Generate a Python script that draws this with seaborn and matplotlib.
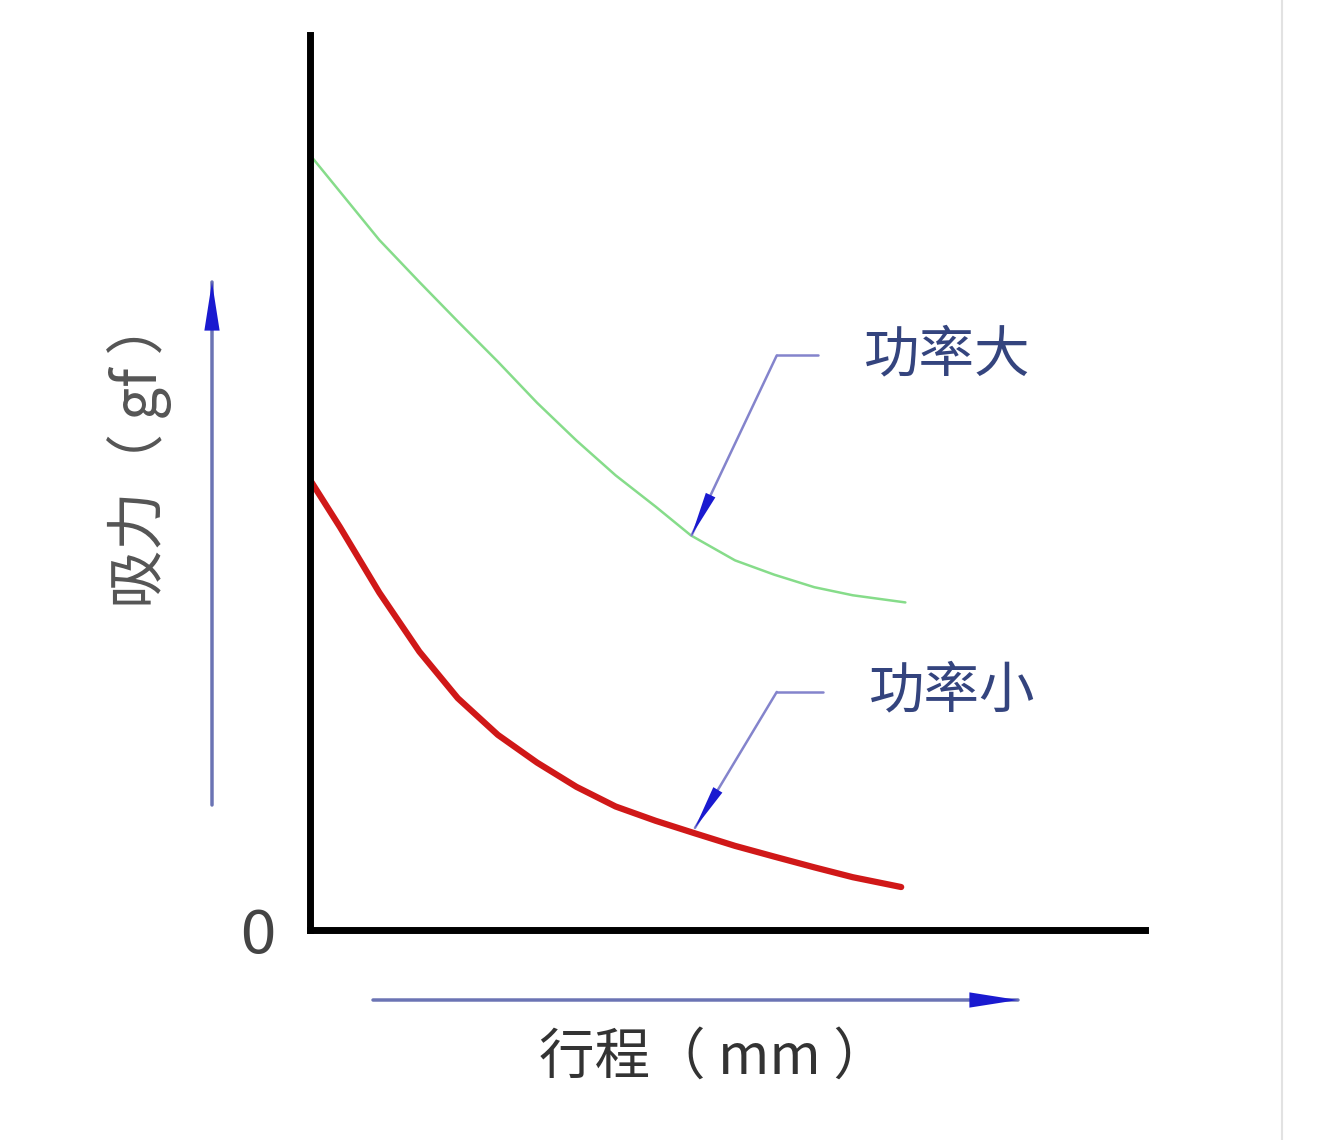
import pandas as pd
import matplotlib
matplotlib.use("Agg")
import matplotlib.pyplot as plt
import seaborn as sns
from matplotlib.lines import Line2D

# data (stroke in mm vs suction in gf, arbitrary units)
big_x = [0.00, 0.83, 1.31, 1.77, 2.25, 2.72, 3.19, 3.66, 4.14, 4.56, 5.09, 5.56, 6.04, 6.50, 7.13]
big_y = [8.66, 7.71, 7.24, 6.80, 6.35, 5.89, 5.47, 5.08, 4.73, 4.41, 4.13, 3.97, 3.83, 3.74, 3.66]
small_x = [0.00, 0.36, 0.83, 1.31, 1.77, 2.25, 2.72, 3.19, 3.66, 4.14, 4.61, 5.09, 5.56, 6.04, 6.50, 7.08]
small_y = [5.03, 4.50, 3.77, 3.11, 2.59, 2.18, 1.87, 1.60, 1.38, 1.22, 1.08, 0.94, 0.82, 0.70, 0.59, 0.48]
labels = ["功率大", "功率小"]

sns.set_style("white")
plt.rcParams['font.family'] = ['Noto Sans CJK SC', 'DejaVu Sans']

fig = plt.figure(figsize=(13.44, 11.40), dpi=100)
ax = fig.add_axes([310 / 1344, 1 - 930 / 1140, 835 / 1344, 895 / 1140])

big = pd.DataFrame({"x": big_x, "y": big_y})
small = pd.DataFrame({"x": small_x, "y": small_y})
sns.lineplot(data=big, x="x", y="y", color="#86dc8a", linewidth=1.8, ax=ax)
sns.lineplot(data=small, x="x", y="y", color="#d01818", linewidth=4.5, ax=ax)

ax.set_xlim(0, 10)
ax.set_ylim(0, 10)
sns.despine(ax=ax)
for s in ["left", "bottom"]:
    ax.spines[s].set_linewidth(5)
    ax.spines[s].set_color("black")
ax.set_xticks([])
ax.set_yticks([0])
ax.set_yticklabels(["0"], fontsize=42, color="#444444", family="DejaVu Sans")
ax.tick_params(axis="y", length=0, pad=24)
ax.set_xlabel("")
ax.set_ylabel("")

line_c = "#8484cc"
head_c = "#1a1ad0"


def arrow(x0, y0, x1, y1, coords, lw, hl, hw, shaft_c):
    # shaft and head drawn apart so they can have different colours
    ax.annotate("", xy=(x1, y1), xytext=(x0, y0), xycoords=coords, textcoords=coords,
                arrowprops=dict(arrowstyle="-", color=shaft_c, lw=lw, shrinkA=0, shrinkB=0))
    ax.annotate("", xy=(x1, y1), xytext=(x0, y0), xycoords=coords, textcoords=coords,
                arrowprops=dict(arrowstyle="-|>,head_length=%s,head_width=%s" % (hl, hw),
                                color=head_c, lw=0, shrinkA=0, shrinkB=0))


# callouts
callouts = [(labels[0], 6.08, 5.59, 6.42, 4.57, 4.41),
            (labels[1], 6.14, 5.59, 2.66, 4.61, 1.14)]
for text, x_end, x_knee, y_knee, x_tip, y_tip in callouts:
    ax.plot([x_end, x_knee], [y_knee, y_knee], color=line_c, lw=1.8)
    arrow(x_knee, y_knee, x_tip, y_tip, "data", 1.8, 3.2, 0.38, line_c)
    ax.text(x_end + 0.55, y_knee, text, fontsize=40, color="#34447e",
            va="center", ha="left")

# axis direction arrows and labels outside the axes
arrow(212, 1140 - 805, 212, 1140 - 282, "figure pixels", 2.5, 3.5, 0.55, "#6b74b4")
arrow(373, 1140 - 1000, 1018, 1140 - 1000, "figure pixels", 2.5, 3.5, 0.55, "#6b74b4")
fig.text(140 / 1344, 1 - 452 / 1140, "吸力（ gf ）", rotation=90, fontsize=42,
         color="#555555", ha="center", va="center")
fig.text(714 / 1344, 1 - 1058 / 1140, "行程（ mm ）", fontsize=40,
         color="#333333", ha="center", va="center")

# faint border line on the right of the picture
fig.add_artist(Line2D([1282 / 1344, 1282 / 1344], [0, 1], color="#e2e2e2", lw=1.5))

fig.savefig("out.png", dpi=100, facecolor="white")
